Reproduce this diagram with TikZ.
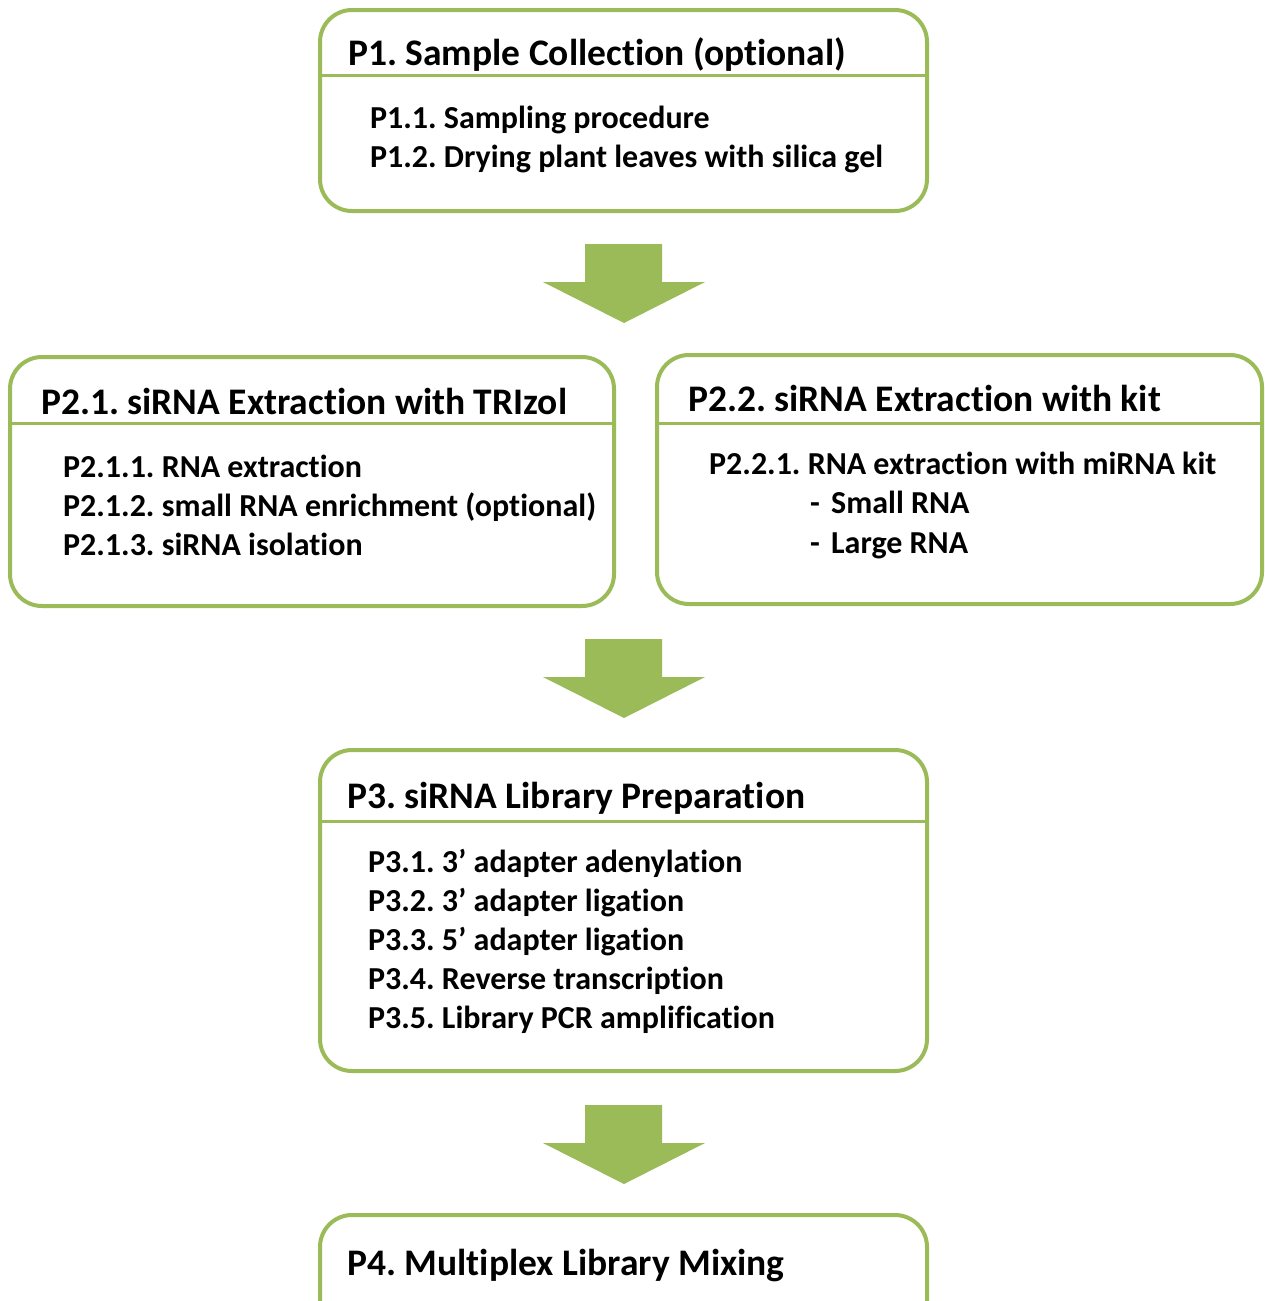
\documentclass[tikz,border=0pt]{standalone}
\usepackage{fontspec}
\setmainfont{Carlito}[Ligatures=NoCommon]
\frenchspacing
\definecolor{boxgreen}{HTML}{9BBB59}

\tikzset{
  stepbox/.style={draw=boxgreen,line width=4pt,rounded corners=32pt,
    inner sep=0pt,fill=white},
  divider/.style={draw=boxgreen,line width=3pt},
  boxtitle/.style={anchor=base west,inner sep=0pt,
    font=\fontsize{37.5}{40}\selectfont\bfseries},
  item/.style={anchor=base west,inner sep=0pt,
    font=\fontsize{32}{36}\selectfont\bfseries},
  flowarrow/.style={fill=boxgreen}
}

\begin{document}
\begin{tikzpicture}[x=1pt,y=-1pt]
  \clip (0,0) rectangle (1264,1301);
  \fill[white] (0,0) rectangle (1264,1301);
  % boxes
  \node[stepbox,minimum width=607pt,minimum height=201pt] (p1) at (623.5,110.5) {};
  \node[stepbox,minimum width=604pt,minimum height=249pt] (p21) at (312,481.5) {};
  \node[stepbox,minimum width=605pt,minimum height=249pt] (p22) at (959.5,479.5) {};
  \node[stepbox,minimum width=607pt,minimum height=321pt] (p3) at (623.5,910.5) {};
  \node[stepbox,minimum width=607pt,minimum height=200pt] (p4) at (623.5,1315) {};
  \draw[divider] ([yshift=-67pt]p1.north west) -- ([yshift=-67pt]p1.north east);
  \draw[divider] ([yshift=-68pt]p21.north west) -- ([yshift=-68pt]p21.north east);
  \draw[divider] ([yshift=-70pt]p22.north west) -- ([yshift=-70pt]p22.north east);
  \draw[divider] ([yshift=-73pt]p3.north west) -- ([yshift=-73pt]p3.north east);
  % block arrows
  \foreach \y in {244,639,1105}
    \fill[flowarrow] (585,\y) -- (662,\y) -- (662,\y+38) -- (705,\y+38)
      -- (624,\y+79) -- (543,\y+38) -- (585,\y+38) -- cycle;
  % texts
  \node[boxtitle] (p1t) at (348,65) {P1. Sample Collection (optional)};
  \node[item] (p11) at (370,128) {P1.1. Sampling procedure};
  \node[item] (p12) at (370,167) {P1.2. Drying plant leaves with silica gel};
  \node[boxtitle] (p21t) at (41,414) {P2.1. siRNA Extraction with TRIzol};
  \node[item] (p211) at (63,477) {P2.1.1. RNA extraction};
  \node[item] (p212) at (63,516) {P2.1.2. small RNA enrichment (optional)};
  \node[item] (p213) at (63,555) {P2.1.3. siRNA isolation};
  \node[boxtitle] (p22t) at (688,411) {P2.2. siRNA Extraction with kit};
  \node[item] (p221) at (709,474) {P2.2.1. RNA extraction with miRNA kit};
  \node[item] (p22a) at (810,513) {-\hspace{0.35em}Small RNA};
  \node[item] (p22b) at (810,553) {-\hspace{0.35em}Large RNA};
  \node[boxtitle] (p3t) at (347,808) {P3. siRNA Library Preparation};
  \node[item] (p31) at (368,872) {P3.1. 3’ adapter adenylation};
  \node[item] (p32) at (368,911) {P3.2. 3’ adapter ligation};
  \node[item] (p33) at (368,950) {P3.3. 5’ adapter ligation};
  \node[item] (p34) at (368,989) {P3.4. Reverse transcription};
  \node[item] (p35) at (368,1028) {P3.5. Library PCR amplification};
  \node[boxtitle] (p4t) at (347,1275) {P4. Multiplex Library Mixing};
\end{tikzpicture}
\end{document}
